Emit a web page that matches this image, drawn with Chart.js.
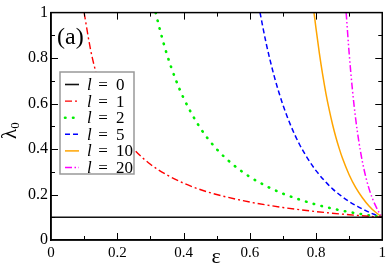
<!DOCTYPE html>
<html>
<head>
<meta charset="utf-8">
<script src="https://cdn.jsdelivr.net/npm/chart.js@4/dist/chart.umd.min.js"></script>
<style>html,body{margin:0;padding:0;background:#fff}canvas{display:block}</style>
</head>
<body>
<canvas id="c" width="390" height="270"></canvas>
<script>
// ---- data ----
const legendValues = [0, 1, 2, 5, 10, 20];
const tickValues = [0, 0.2, 0.4, 0.6, 0.8, 1];

const eps0 = [0, 1];
const lam0 = [0.1, 0.1];

const eps1 = [0.1,0.12,0.14,0.16,0.18,0.2,0.25,0.3,0.35,0.4,0.45,0.5,0.6,0.7,0.8,0.9,1.0];
const lam1 = [1.0,0.833,0.714,0.625,0.556,0.5,0.4,0.333,0.286,0.25,0.222,0.2,0.167,0.143,0.125,0.111,0.1];

const eps2 = [0.316,0.33,0.35,0.375,0.4,0.45,0.5,0.55,0.6,0.65,0.7,0.75,0.8,0.85,0.9,0.95,1.0];
const lam2 = [1.0,0.918,0.816,0.711,0.625,0.494,0.4,0.331,0.278,0.237,0.204,0.178,0.156,0.138,0.123,0.111,0.1];

const eps5 = [0.631,0.65,0.675,0.7,0.725,0.75,0.775,0.8,0.825,0.85,0.875,0.9,0.925,0.95,0.975,1.0];
const lam5 = [1.0,0.862,0.714,0.595,0.499,0.421,0.358,0.305,0.262,0.225,0.195,0.169,0.148,0.129,0.113,0.1];

const eps10 = [0.794,0.8,0.81,0.82,0.83,0.84,0.85,0.86,0.87,0.88,0.9,0.92,0.94,0.96,0.98,1.0];
const lam10 = [1.0,0.931,0.823,0.728,0.644,0.572,0.508,0.452,0.403,0.359,0.287,0.230,0.186,0.150,0.122,0.1];

const eps20 = [0.891,0.9,0.91,0.92,0.93,0.94,0.95,0.96,0.97,0.98,0.99,1.0];
const lam20 = [1.0,0.823,0.660,0.530,0.427,0.345,0.279,0.226,0.184,0.150,0.122,0.1];

const seriesX = [eps0, eps1, eps2, eps5, eps10, eps20];
const seriesY = [lam0, lam1, lam2, lam5, lam10, lam20];

// ---- styles ----
const styles = [
  {color:'#111111', width:1.6, dash:[], cap:'butt'},
  {color:'#ff0000', width:1.4, dash:[7,3,2,3], cap:'butt'},
  {color:'#00ee00', width:2.6, dash:[0.5,7.5], cap:'round'},
  {color:'#0000ff', width:1.5, dash:[5,3], cap:'butt'},
  {color:'#ffa500', width:1.5, dash:[], cap:'butt'},
  {color:'#ff00ff', width:1.5, dash:[7,2.5,1.5,2.5,1.5,2.5], cap:'butt'}
];

const SERIF = '"Liberation Serif", "DejaVu Serif", serif';

const datasets = legendValues.map((v, i) => ({
  label: 'l = ' + v,
  data: seriesX[i].map((x, j) => ({x: x, y: seriesY[i][j]})),
  showLine: true,
  pointRadius: 0,
  borderColor: styles[i].color,
  borderWidth: styles[i].width,
  borderDash: styles[i].dash,
  borderCapStyle: styles[i].cap,
  cubicInterpolationMode: 'monotone',
  fill: false
}));

function fmt(v){ return String(Number(v.toFixed(1))); }

const decor = {
  id: 'decor',
  afterDraw(chart){
    const ctx = chart.ctx, a = chart.chartArea;
    const xs = chart.scales.x, ys = chart.scales.y;
    ctx.save();
    // frame
    ctx.strokeStyle = '#000';
    ctx.lineWidth = 1.5;
    ctx.setLineDash([]);
    ctx.strokeRect(a.left, a.top, a.right - a.left, a.bottom - a.top);
    // inward ticks, major + minor
    ctx.lineWidth = 1;
    const seg = (x1,y1,x2,y2) => { ctx.beginPath(); ctx.moveTo(x1,y1); ctx.lineTo(x2,y2); ctx.stroke(); };
    for (let i = 1; i < 10; i++){
      const v = i/10, len = (i % 2 === 0) ? 7 : 4;
      const px = Math.round(xs.getPixelForValue(v)) + 0.5;
      seg(px, a.bottom, px, a.bottom - len);
      seg(px, a.top, px, a.top + len);
      const py = Math.round(ys.getPixelForValue(v)) + 0.5;
      seg(a.left, py, a.left + len, py);
      seg(a.right, py, a.right - len, py);
    }
    // panel label
    ctx.fillStyle = '#000';
    ctx.textAlign = 'left';
    ctx.textBaseline = 'alphabetic';
    ctx.font = '24px ' + SERIF;
    ctx.fillText('(a)', 57, 44);
    // x title
    ctx.textAlign = 'center';
    ctx.font = '22px ' + SERIF;
    ctx.fillText('ε', 216, 263);
    // y title (rotated)
    ctx.save();
    ctx.translate(16, 139);
    ctx.rotate(-Math.PI/2);
    ctx.textAlign = 'left';
    ctx.font = '21px ' + SERIF;
    ctx.fillText('λ', 0, 0);
    const w = ctx.measureText('λ').width;
    ctx.font = '13px ' + SERIF;
    ctx.fillText('0', w, 3);
    ctx.restore();
    // legend
    const lx = 60, ly = 72, lw = 74, lh = 102;
    ctx.fillStyle = '#fff';
    ctx.fillRect(lx, ly, lw, lh);
    ctx.strokeStyle = '#999';
    ctx.lineWidth = 1.5;
    ctx.strokeRect(lx, ly, lw, lh);
    chart.data.datasets.forEach((ds, i) => {
      const cy = 84.5 + i * 16.6;
      ctx.strokeStyle = ds.borderColor;
      ctx.lineWidth = ds.borderWidth;
      ctx.setLineDash(ds.borderDash);
      ctx.lineCap = ds.borderCapStyle;
      ctx.beginPath();
      ctx.moveTo(65, cy);
      ctx.lineTo(79, cy);
      ctx.stroke();
      ctx.setLineDash([]);
      ctx.lineCap = 'butt';
      ctx.fillStyle = '#000';
      ctx.textBaseline = 'middle';
      ctx.textAlign = 'left';
      ctx.font = 'italic 17px ' + SERIF;
      ctx.fillText('l', 87, cy + 1);
      ctx.font = '17px ' + SERIF;
      ctx.textAlign = 'center';
      ctx.fillText('=', 103, cy + 1);
      ctx.textAlign = 'left';
      ctx.fillText(String(legendValues[i]), 116, cy + 1);
    });
    ctx.restore();
  }
};

new Chart(document.getElementById('c'), {
  type: 'scatter',
  data: { datasets: datasets },
  options: {
    responsive: false,
    animation: false,
    devicePixelRatio: 1,
    layout: { padding: { top: 6, right: 3, left: 0, bottom: 0 } },
    plugins: { legend: { display: false }, tooltip: { enabled: false } },
    scales: {
      x: {
        type: 'linear', min: 0, max: 1,
        afterFit(s){ s.height = 30; },
        afterBuildTicks(s){ s.ticks = tickValues.map(v => ({value: v})); },
        grid: { display: false, drawTicks: false },
        border: { display: true, color: '#000', width: 1.5 },
        ticks: { padding: 4, color: '#000', font: { family: SERIF, size: 15 }, callback: v => fmt(v), maxRotation: 0, autoSkip: false }
      },
      y: {
        type: 'linear', min: 0, max: 1,
        afterFit(s){ s.width = 51; },
        afterBuildTicks(s){ s.ticks = tickValues.map(v => ({value: v})); },
        grid: { display: false, drawTicks: false },
        border: { display: true, color: '#000', width: 1.5 },
        ticks: { padding: 3, color: '#000', font: { family: SERIF, size: 16 }, callback: v => fmt(v), autoSkip: false }
      }
    }
  },
  plugins: [decor]
});
</script>
</body>
</html>
